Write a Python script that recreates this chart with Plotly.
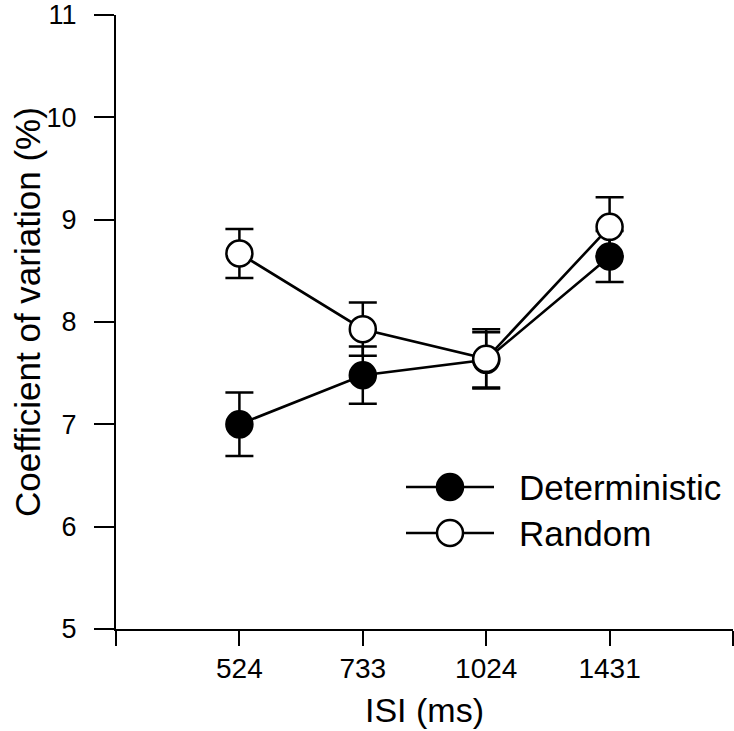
import plotly.graph_objects as go

# ---- data ----
isi_labels = ['524', '733', '1024', '1431']
det_mean = [7.00, 7.48, 7.63, 8.64]
det_err = [0.31, 0.28, 0.27, 0.25]
rand_mean = [8.67, 7.93, 7.64, 8.93]
rand_err = [0.24, 0.26, 0.29, 0.29]
series_names = ['Deterministic', 'Random']
y_ticks = [5, 6, 7, 8, 9, 10, 11]
x_title = 'ISI (ms)'
y_title = 'Coefficient of variation (%)'

xpos = list(range(len(isi_labels)))
FONT = 'Liberation Sans, Arial, Helvetica, sans-serif'

fig = go.Figure()

fig.add_trace(go.Scatter(
    x=xpos, y=det_mean, name=series_names[0], mode='lines+markers',
    line=dict(color='black', width=2.6),
    marker=dict(size=26, color='black', line=dict(color='black', width=2.5)),
    error_y=dict(type='data', array=det_err, visible=True, color='black',
                 thickness=2.5, width=14),
    showlegend=False, hoverinfo='skip',
))
fig.add_trace(go.Scatter(
    x=xpos, y=rand_mean, name=series_names[1], mode='lines+markers',
    line=dict(color='black', width=2.6),
    marker=dict(size=26, color='white', line=dict(color='black', width=2.5)),
    error_y=dict(type='data', array=rand_err, visible=True, color='black',
                 thickness=2.5, width=14),
    showlegend=False, hoverinfo='skip',
))

# ---- layout helpers (pixel -> paper) ----
FW, FH = 734, 731
L, R, T, B = 116, 733, 15, 629
W, H = R - L, B - T
def px(x):
    return (x - L) / W
def py(y):
    return (B - y) / H

legend_rows = [(487, 'black'), (533, 'white')]
shapes = []
annotations = []
for (row_y, fill), name in zip(legend_rows, series_names):
    yy = py(row_y)
    shapes.append(dict(type='line', xref='paper', yref='paper',
                       x0=px(406), x1=px(494), y0=yy, y1=yy,
                       line=dict(color='black', width=2.6)))
    shapes.append(dict(type='circle', xref='paper', yref='paper',
                       xsizemode='pixel', ysizemode='pixel',
                       xanchor=px(450), yanchor=yy,
                       x0=-13, x1=13, y0=-13, y1=13,
                       fillcolor=fill, line=dict(color='black', width=2.5)))
    annotations.append(dict(xref='paper', yref='paper', x=px(517), y=yy,
                            text=name, showarrow=False, xanchor='left',
                            yanchor='middle',
                            font=dict(family=FONT, size=35, color='black')))

# axis titles as annotations for exact placement
annotations.append(dict(xref='paper', yref='paper', x=px(424), y=py(710),
                        text=x_title, showarrow=False, xanchor='center',
                        yanchor='middle',
                        font=dict(family=FONT, size=34, color='black')))
annotations.append(dict(xref='paper', yref='paper', x=px(27), y=py(312),
                        text=y_title, showarrow=False, textangle=-90,
                        xanchor='center', yanchor='middle',
                        font=dict(family=FONT, size=35, color='black')))

fig.update_layout(
    width=FW, height=FH,
    margin=dict(l=L, r=FW - R, t=T, b=FH - B, autoexpand=False),
    paper_bgcolor='white', plot_bgcolor='white',
    font=dict(family=FONT, color='black'),
    shapes=shapes, annotations=annotations,
    showlegend=False, hovermode=False,
)
fig.update_xaxes(
    range=[-1, 4], tickmode='array',
    tickvals=[-1] + xpos + [4], ticktext=[''] + isi_labels + [''],
    showgrid=False, zeroline=False, automargin=False,
    showline=True, linecolor='black', linewidth=2,
    ticks='outside', ticklen=15, tickwidth=2, tickcolor='black',
    tickfont=dict(family=FONT, size=28, color='black'),
    ticklabelstandoff=-2,
)
fig.update_yaxes(
    range=[5, 11], tickmode='array', tickvals=y_ticks,
    ticktext=[str(v) for v in y_ticks],
    showgrid=False, zeroline=False, automargin=False,
    showline=True, linecolor='black', linewidth=2,
    ticks='outside', ticklen=20, tickwidth=2, tickcolor='black',
    tickfont=dict(family=FONT, size=27, color='black'),
    ticklabelstandoff=12, ticklabeloverflow='allow',
)

fig.write_html('out.html',
               config={'displayModeBar': False, 'staticPlot': True},
               post_script="document.body.style.margin='0';"
                           "document.body.style.overflow='hidden';")
